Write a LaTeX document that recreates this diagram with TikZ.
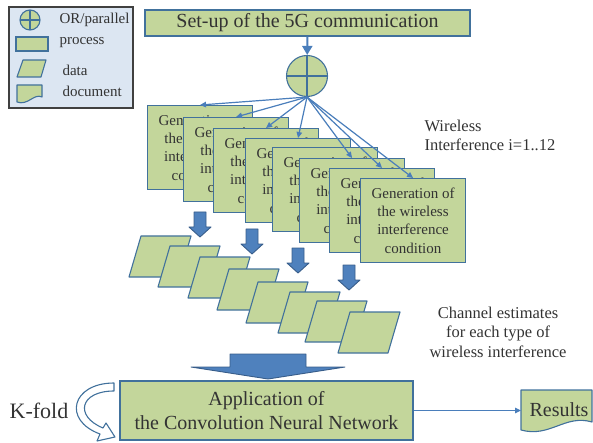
\documentclass[tikz,border=0pt]{standalone}
\usepackage{fontspec}
\setmainfont{Liberation Serif}
\usepackage{tikz}
\usetikzlibrary{arrows.meta}
\definecolor{boxgreen}{HTML}{C3D69B}
\definecolor{boxblue}{HTML}{41719C}
\definecolor{arrblue}{HTML}{4A7EBB}
\definecolor{blockblue}{HTML}{4F81BD}
\definecolor{blockedge}{HTML}{385D8A}
\definecolor{legendbg}{HTML}{DCE6F2}
\definecolor{txt}{HTML}{333333}

\begin{document}
\begin{tikzpicture}[x=1pt,y=-1pt,
  every node/.style={text=txt},
  proc/.style={draw=boxblue,fill=boxgreen,line width=1.1pt,inner sep=0pt,align=center},
  gen/.style={proc,anchor=north west,minimum width=105pt,minimum height=84pt,font=\fontsize{15}{18.3}\selectfont},
  orgate/.style={circle,draw=boxblue,fill=boxgreen,line width=1.1pt,inner sep=0pt,minimum size=#1,
    path picture={\draw[boxblue,line width=1.1pt] (path picture bounding box.north) -- (path picture bounding box.south)
      (path picture bounding box.west) -- (path picture bounding box.east);}},
  orgate/.default=41pt,
  datashape/.style={draw=boxblue,fill=boxgreen,line width=1.1pt,line join=round},
  conn/.style={draw=arrblue,line width=1.2pt,-{Triangle[length=6pt,width=5.5pt]}},
  blockarr/.style={draw=blockedge,fill=blockblue,line width=0.9pt,line join=round},
  legtext/.style={anchor=west,font=\fontsize{15}{17}\selectfont},
  note/.style={font=\fontsize{16.5}{19.5}\selectfont}
  ]
\useasboundingbox (0,0) rectangle (593,443);

% legend
\draw[fill=legendbg,draw=black!75,line width=1.5pt] (9,7) rectangle (133,108);
\node[orgate=20pt] (lor) at (30,20){};
\node[proc,minimum width=32pt,minimum height=14pt] (lproc) at (32,44){};
\draw[datashape] (23,60) -- (46,60) -- (41,77) -- (17,77) -- cycle;
\draw[datashape] (17,85) -- (42,85) -- (42,97) .. controls (34,93) and (28,106) .. (17,102) -- cycle;
\node[legtext] (tor) at (56,20) {OR/parallel};
\node[legtext] (tproc) at (56,43) {process};
\node[legtext] (tdata) at (59,70) {data};
\node[legtext] (tdoc) at (59,91) {document};

% top
\node[proc,minimum width=325pt,minimum height=26pt,font=\fontsize{20}{24}\selectfont] (setup) at (307.5,23) {Set-up of the 5G communication};
\node[orgate] (orp) at (307,76){};                                  % OR/parallel
\draw[conn,line width=2pt,-{Triangle[length=9pt,width=10pt]}] (setup) -- (orp);

% generation of interference, i=1..12
\foreach \gx/\gy [count=\i] in {147/105,183/117,213/128,245/138,272/147,299/158,329/168,360/178}
  \node[gen] (g\i) at (\gx,\gy) {Generation of\\the wireless\\interference\\condition};
\foreach \i in {1,2,3,4,6,7,8}
  \draw[conn] (orp.south) -- (g\i.north);
\node[note,anchor=west,align=left] (wl) at (421,135.5) {Wireless\\Interference i=1..12};

% channel estimates
\foreach \px/\py in {141/236,170/246,200/257,229/269,258/282,290/292,317/301,350/312}
  \draw[datashape] (\px,\py) -- ++(50,0) -- ++(-12,41) -- ++(-50,0) -- cycle;
\foreach \ax/\ay in {200/212,252/229,298/248,349/265}
  \draw[blockarr] (\ax-6,\ay) -- (\ax+6,\ay) -- (\ax+6,\ay+15) -- (\ax+11,\ay+15) -- (\ax,\ay+25)
    -- (\ax-11,\ay+15) -- (\ax-6,\ay+15) -- cycle;
\node[note,align=center] (ce) at (498,332) {Channel estimates\\for each type of\\wireless interference};

% CNN
\draw[blockarr] (230,354) -- (306,354) -- (306,367) -- (345,367) -- (268,379) -- (191,367) -- (230,367) -- cycle;
\node[proc,minimum width=293pt,minimum height=59pt,font=\fontsize{20}{24}\selectfont] (cnn) at (266.5,410.5) {Application of\\the Convolution Neural Network};
\node[font=\fontsize{22}{26}\selectfont] (kfold) at (39,411) {K-fold};
\draw[draw=boxblue,fill=white,line width=1.1pt,line join=round]
  (114,383) .. controls (72,383) and (62,420) .. (100,434) -- (97,441) -- (115,437) -- (106,423) -- (103,428)
  .. controls (74,416) and (80,391) .. (114,391) -- cycle;    % k-fold loop

% results
\draw[datashape] (521,390) -- (592,390) -- (592,422) .. controls (565,414) and (550,438) .. (521,430) -- cycle;
\node[font=\fontsize{20}{24}\selectfont,minimum width=71pt,minimum height=40pt,inner sep=0pt] (res) at (559,410) {Results};
\draw[conn] (cnn.east) -- (cnn.east -| 521,0);
\end{tikzpicture}
\end{document}
